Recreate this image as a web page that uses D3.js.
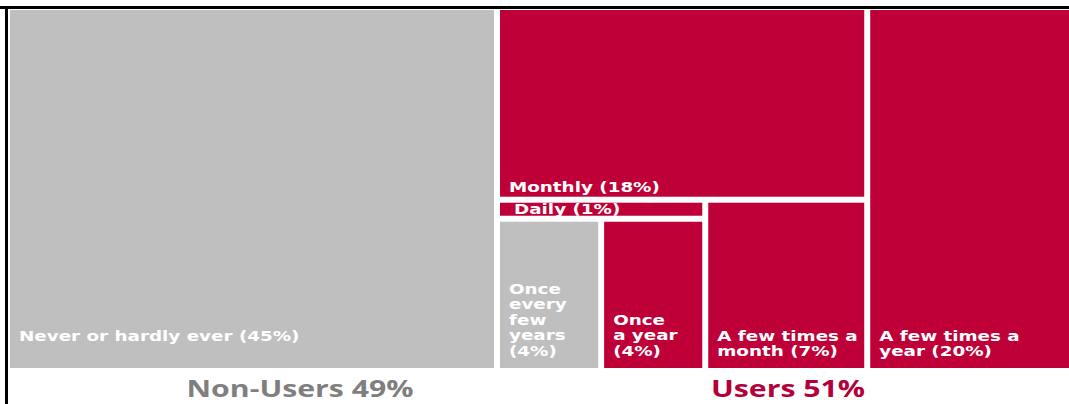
<!DOCTYPE html>
<html lang="en">
  <head>
    <meta charset="utf-8">
    <title>Users and non-users treemap</title>
    <style>
      body {margin: 0; background: #fff;}
      svg {display: block;}
      .cell text {font-family: "DejaVu Sans", Verdana, sans-serif; font-weight: bold; font-size: 14px; fill: #fff;}
      .group-label {font-family: "Open Sans", sans-serif; font-weight: bold; font-size: 24px; text-anchor: middle;}
      .frame {stroke: #000; stroke-width: 3; shape-rendering: crispEdges;}
    </style>
    <script src="https://d3js.org/d3.v7.min.js"></script>
  </head>
  <body>
    <script type="text/javascript">
      // categories in layout order, with their share (%) and user group
      var categories = ["Never or hardly ever", "Monthly", "Daily", "Once every few years",
                        "Once a year", "A few times a month", "A few times a year"];
      var shares = [45, 18, 1, 4, 4, 7, 20];
      var groupOf = ["Non-Users", "Users", "Users", "Non-Users", "Users", "Users", "Users"];

      // label text as it is wrapped in the chart
      var labelLines = [
        ["Never or hardly ever (45%)", ""],
        ["Monthly (18%)"],
        ["Daily (1%)"],
        ["Once", "every", "few", "years", "(4%)"],
        ["Once", "a year", "(4%)"],
        ["A few times a", "month (7%)"],
        ["A few times a", "year (20%)"]
      ];

      // group totals shown under the chart
      var groupNames = ["Non-Users", "Users"];
      var groupTotals = [49, 51];

      var width = 1069, height = 404;

      var svg = d3.select("body").append("svg")
        .attr("width", width)
        .attr("height", height);

      // nesting of the cells (slice/dice alternates with depth)
      var leaf = function(i) {
        return {name: categories[i], value: shares[i], group: groupOf[i], lines: labelLines[i]};
      };
      var tree = {name: "root", children: [
        leaf(0),
        {name: "middle", children: [
          leaf(1),
          {name: "bottom", children: [
            {name: "left", children: [
              leaf(2),
              {name: "row", children: [leaf(3), leaf(4)]}
            ]},
            leaf(5)
          ]}
        ]},
        leaf(6)
      ]};

      var root = d3.hierarchy(tree).sum(function(d) { return d.value || 0; });

      d3.treemap()
        .tile(d3.treemapSliceDice)
        .size([1072, 358])
        .paddingInner(6)
        (root);

      var color = d3.scaleOrdinal()
        .domain(groupNames)
        .range(["#bfbfbf", "#bf0038"]);

      var cells = svg.append("g")
        .attr("transform", "translate(10,10)")
        .selectAll("g")
        .data(root.leaves())
        .enter()
        .append("g")
        .attr("class", "cell");

      cells.append("rect")
        .attr("x", function(d) { return d.x0; })
        .attr("y", function(d) { return d.y0; })
        .attr("width", function(d) { return d.x1 - d.x0; })
        .attr("height", function(d) { return d.y1 - d.y0; })
        .attr("fill", function(d) { return color(d.data.group); });

      // labels sit at the bottom left of each cell, stretched like the original
      var lineHeight = 15.5;
      cells.each(function(d) {
        var lines = d.data.lines;
        var h = d.y1 - d.y0;
        var top;
        if (h < 30) {
          top = d.y0 + (h + 10) / 2;   // thin cell: centre the single line
        } else {
          var pad = lines.length === 1 ? 5 : 12;
          top = d.y1 - pad - (lines.length - 1) * lineHeight;
        }
        var dx = h < 30 ? 14 : 9;
        var t = d3.select(this).append("text")
          .attr("transform", "translate(" + (d.x0 + dx) + "," + top + ") scale(1.31,1)");
        t.selectAll("tspan")
          .data(lines)
          .enter()
          .append("tspan")
          .attr("x", 0)
          .attr("y", function(l, i) { return i * lineHeight; })
          .text(function(l) { return l; });
      });

      // group totals under the chart
      var groupX = [300, 788];
      svg.selectAll(".group-label")
        .data(groupNames)
        .enter()
        .append("text")
        .attr("class", "group-label")
        .attr("transform", function(d, i) { return "translate(" + groupX[i] + ",397) scale(1.26,1)"; })
        .attr("fill", function(d, i) { return i === 0 ? "#7f7f7f" : "#b3003a"; })
        .text(function(d, i) { return d + " " + groupTotals[i] + "%"; });

      // black frame on top and left edges
      svg.append("line").attr("class", "frame")
        .attr("x1", 0).attr("y1", 7.5).attr("x2", width).attr("y2", 7.5);
      svg.append("line").attr("class", "frame")
        .attr("x1", 6.5).attr("y1", 6).attr("x2", 6.5).attr("y2", height);
    </script>
  </body>
</html>
